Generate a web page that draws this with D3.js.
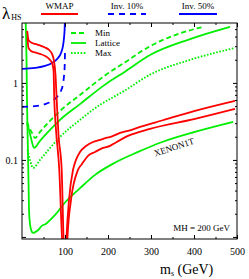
<!DOCTYPE html>
<html>
<head>
<meta charset="utf-8">
<script src="https://cdn.jsdelivr.net/npm/d3@7"></script>
<style>
  body { margin: 0; background: #fff; }
  svg { font-family: "Liberation Serif", "DejaVu Serif", serif; }
</style>
</head>
<body>
<svg class="chart" width="249" height="279"></svg>
<script>
// values: [mass in GeV, lambda_HS]
const wmapUpper = [[12.1,4.73],[15.1,3.62],[20.9,3.36],[30.2,3.21],[41.9,3.07],[53.5,2.89],[62.8,2.68],[69.8,2.38],[74.4,1.93],[77.9,1.27],[80.7,0.60],[84.9,0.211],[92.3,0.0741],[96.5,0.01],[98.8,0.005],[101.2,0.005],[103.5,0.01],[109.3,0.0303],[118.6,0.0741],[125.6,0.1],[134.9,0.127],[148.8,0.152],[165.1,0.171],[181.4,0.182],[195.3,0.193],[209.3,0.202],[227.9,0.224],[246.5,0.238],[274.4,0.268],[325.6,0.325],[402.3,0.433],[495.3,0.584]]
const wmapLower = [[12.8,3.84],[15.1,2.85],[20.9,2.60],[30.2,2.49],[41.9,2.38],[53.5,2.24],[62.8,2.05],[69.8,1.82],[73.3,1.47],[75.1,0.60],[79.1,0.245],[86.7,0.0741],[93,0.01],[96.5,0.005],[103.5,0.005],[105.8,0.01],[114,0.0303],[130.2,0.0741],[139.5,0.0887],[153.5,0.113],[169.8,0.127],[188.4,0.143],[204.7,0.152],[216.3,0.166],[246.5,0.205],[297.7,0.253],[402.3,0.341],[495.3,0.459]]
const inv10 = [[0,0.488],[30.2,0.50],[53.5,0.53],[69.8,0.58],[83.7,0.68],[90.7,0.79],[95.3,0.97],[97.7,1.23],[99.07,1.57],[99.85,2.3],[99.95,2.7]]
const inv50 = [[0,1.52],[30.2,1.57],[53.5,1.66],[69.8,1.82],[83.7,2.11],[90.7,2.45],[95.3,3.02],[97.7,3.84],[99.07,4.88],[99.9,6.6]]
const ddMin = [[11.6,0.312],[16.3,0.268],[23.3,0.224],[30.2,0.193],[41.9,0.231],[65.1,0.321],[88.4,0.433],[134.9,0.698],[193,1.25],[239.5,1.85],[297.7,3.0],[367.4,4.4],[420.9,5.34]]
const ddLattice = [[11.6,0.294],[15.1,0.26],[20.9,0.193],[27.9,0.143],[41.9,0.177],[65.1,0.245],[88.4,0.331],[134.9,0.53],[193,0.95],[239.5,1.4],[297.7,2.3],[390.7,3.7],[483.7,5.34]]
const ddMax = [[12.8,0.135],[18.6,0.1],[25.6,0.0787],[41.9,0.1],[65.1,0.143],[88.4,0.199],[134.9,0.331],[165.1,0.45],[239.5,0.8],[297.7,1.28],[390.7,1.99],[495.3,2.85]]
const xenon = [[8,8],[9.5,4],[10.5,2.0],[11.6,0.6],[13.3,0.18],[15.1,0.055],[16.3,0.0224],[18.6,0.0148],[22,0.012],[25.6,0.0113],[30,0.0115],[37,0.0122],[46,0.0139],[56,0.0148],[65,0.0165],[77,0.0193],[100,0.028],[135,0.043],[170,0.064],[216,0.092],[270,0.127],[326,0.171],[402,0.231],[491,0.312]]

const massTicks = [100, 200, 300, 400, 500]
const massMinor = [50, 150, 250, 350, 450]
const lambdaTicks = [0.01, 0.1, 1]
const lambdaMinor = [0.02,0.03,0.04,0.05,0.06,0.07,0.08,0.09,0.2,0.3,0.4,0.5,0.6,0.7,0.8,0.9,2,3,4,5]
const topLegend = ["WMAP", "Inv. 10%", "Inv. 50%"]
const ddLegend = ["Min", "Lattice", "Max"]

const x = d3.scaleLinear([0, 500], [22, 237])
const y = d3.scaleLog([0.0094, 6], [239, 23])

const svg = d3.select('.chart')

svg.append('clipPath').attr('id', 'plot')
    .append('rect')
    .attr('x', 22).attr('y', 23)
    .attr('width', 215).attr('height', 216)

const line = d3.line()
    .x(d => x(d[0]))
    .y(d => y(d[1]))
    .curve(d3.curveMonotoneX)

const curves = [
    {data: xenon, color: '#00ee00', dash: null},
    {data: ddMax, color: '#00ee00', dash: '1.6,1.6'},
    {data: ddLattice, color: '#00ee00', dash: null},
    {data: ddMin, color: '#00ee00', dash: '5,3'},
    {data: inv10, color: '#0000ff', dash: '6,5'},
    {data: inv50, color: '#0000ff', dash: null},
    {data: wmapLower, color: '#ff0000', dash: null},
    {data: wmapUpper, color: '#ff0000', dash: null}
]

svg.append('g')
    .attr('clip-path', 'url(#plot)')
    .selectAll('path')
    .data(curves)
    .join('path')
    .attr('d', d => line(d.data))
    .attr('fill', 'none')
    .attr('stroke', d => d.color)
    .attr('stroke-width', 1.8)
    .attr('stroke-dasharray', d => d.dash)

// axes, ticks inside the frame
const axisB = svg.append('g').attr('transform', 'translate(0,239)')
axisB.call(d3.axisBottom(x).tickValues(massTicks).tickSize(-4).tickPadding(9))
axisB.append('g').call(d3.axisBottom(x).tickValues(massMinor).tickSize(-2).tickFormat(''))

const axisT = svg.append('g').attr('transform', 'translate(0,23)')
axisT.call(d3.axisTop(x).tickValues(massTicks).tickSize(-4).tickFormat(''))
axisT.append('g').call(d3.axisTop(x).tickValues(massMinor).tickSize(-2).tickFormat(''))

const axisL = svg.append('g').attr('transform', 'translate(22,0)')
axisL.call(d3.axisLeft(y).tickValues(lambdaTicks).tickSize(-4).tickPadding(4)
    .tickFormat(d => d == 0.01 ? '' : d3.format('')(d)))
axisL.append('g').call(d3.axisLeft(y).tickValues(lambdaMinor).tickSize(-2).tickFormat(''))

const axisR = svg.append('g').attr('transform', 'translate(237,0)')
axisR.call(d3.axisRight(y).tickValues(lambdaTicks).tickSize(-4).tickFormat(''))
axisR.append('g').call(d3.axisRight(y).tickValues(lambdaMinor).tickSize(-2).tickFormat(''))

svg.selectAll('.domain').remove()
svg.selectAll('.tick line').attr('stroke', '#000')
svg.selectAll('.tick text')
    .attr('font-family', '"Liberation Serif", serif')
    .attr('font-size', 10)
    .attr('fill', '#000')

svg.append('rect')
    .attr('x', 22).attr('y', 23)
    .attr('width', 215).attr('height', 216)
    .attr('fill', 'none')
    .attr('stroke', '#000')
    .attr('stroke-width', 1)

// y label
const ylab = svg.append('text').attr('x', 2).attr('y', 19)
ylab.append('tspan').text('λ').attr('font-size', 17)
ylab.append('tspan').text('HS').attr('font-size', 8).attr('dx', 1).attr('dy', 1)

// x label
const xlab = svg.append('text').attr('x', 160).attr('y', 274).attr('font-size', 14)
xlab.append('tspan').text('m')
xlab.append('tspan').text('s').attr('font-size', 8).attr('dy', 2)
xlab.append('tspan').text(' (GeV)').attr('dy', -2)

// top legend
const topItems = [
    {x0: 41, x1: 78, color: '#ff0000', dash: null},
    {x0: 108, x1: 146, color: '#0000ff', dash: '6,5'},
    {x0: 179, x1: 217, color: '#0000ff', dash: null}
]
const tl = svg.append('g').selectAll('g')
    .data(topItems)
    .join('g')
tl.append('line')
    .attr('x1', d => d.x0).attr('x2', d => d.x1)
    .attr('y1', 14).attr('y2', 14)
    .attr('stroke', d => d.color)
    .attr('stroke-width', 1.8)
    .attr('stroke-dasharray', d => d.dash)
tl.append('text')
    .text((d, i) => topLegend[i])
    .attr('x', d => (d.x0 + d.x1) / 2)
    .attr('y', 8.5)
    .attr('text-anchor', 'middle')
    .attr('font-size', 9)

// direct detection legend
const ddDash = ['5,3', null, '1.6,1.6']
const dl = svg.append('g').selectAll('g')
    .data(ddLegend)
    .join('g')
    .attr('transform', (d, i) => `translate(0,${33 + i * 10})`)
dl.append('line')
    .attr('x1', 71).attr('x2', 86)
    .attr('stroke', '#00ee00')
    .attr('stroke-width', 1.8)
    .attr('stroke-dasharray', (d, i) => ddDash[i])
dl.append('text')
    .text(d => d)
    .attr('x', 95).attr('y', 3)
    .attr('font-size', 9)

svg.append('text')
    .text('XENON1T')
    .attr('transform', 'translate(175,150) rotate(-18)')
    .attr('text-anchor', 'middle')
    .attr('font-size', 9)

svg.append('text')
    .text('MH = 200 GeV')
    .attr('x', 230).attr('y', 231)
    .attr('text-anchor', 'end')
    .attr('font-size', 9)
</script>
</body>
</html>
